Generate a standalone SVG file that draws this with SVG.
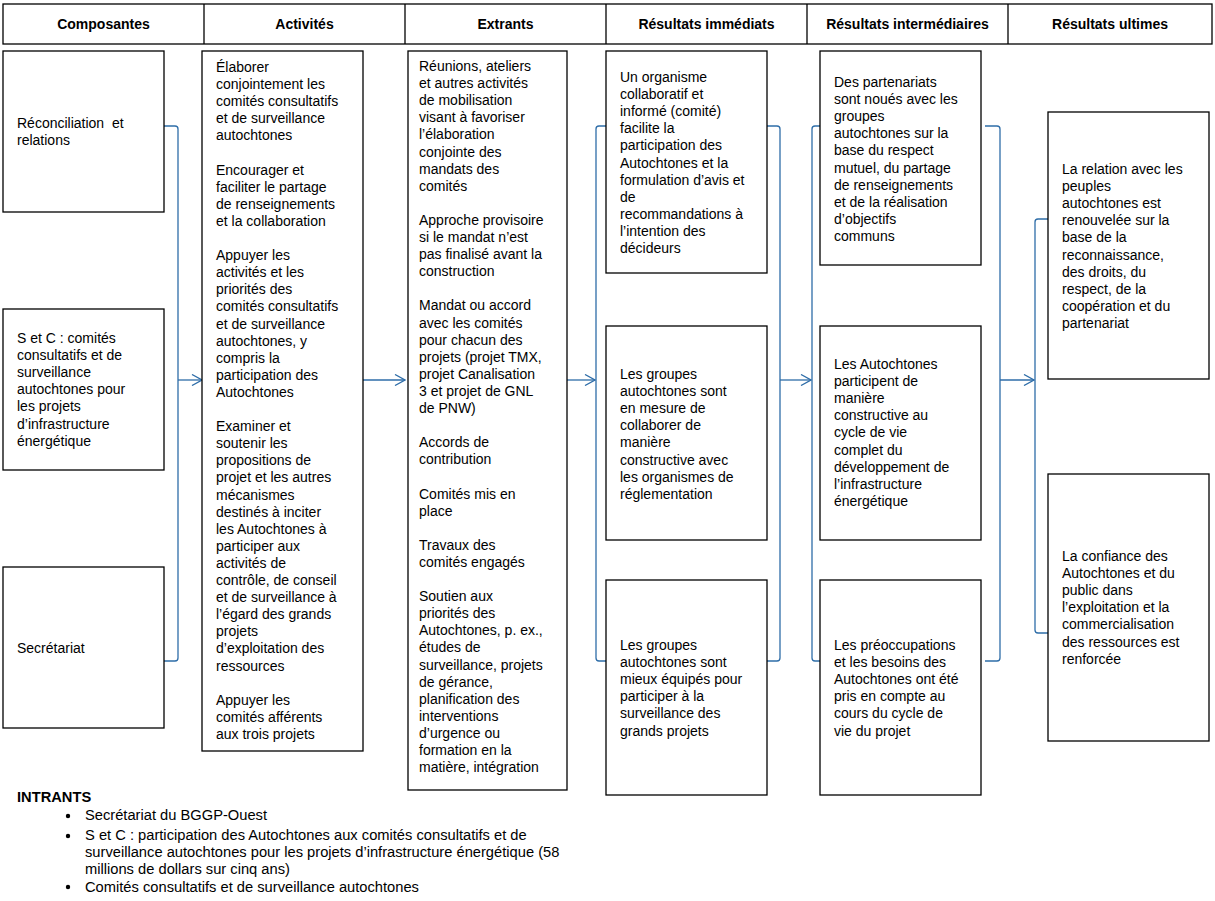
<svg xmlns="http://www.w3.org/2000/svg" width="1215" height="901" viewBox="0 0 1215 901">
<defs>
<style>
.box{fill:#fff;stroke:#000;stroke-width:1.3}
.t{font-family:"Liberation Sans",Arial,sans-serif;font-size:14px;fill:#000}
.i{font-family:"Liberation Sans",Arial,sans-serif;font-size:14.7px;fill:#000}
.h{font-family:"Liberation Sans",Arial,sans-serif;font-size:14px;font-weight:bold;fill:#000;text-anchor:middle}
.c{fill:none;stroke:#2E6DA8;stroke-width:1.3}
</style>
<marker id="ah" markerWidth="12" markerHeight="12" refX="11" refY="6" orient="auto" markerUnits="userSpaceOnUse">
<path d="M1,0.5 L11,6 L1,11.5" fill="none" stroke="#2E6DA8" stroke-width="1.3"/>
</marker>
</defs>
<rect width="1215" height="901" fill="#fff"/>

<g id="header">
<rect class="box" x="3" y="4" width="1209" height="40"/>
<line x1="204" y1="4" x2="204" y2="44" stroke="#000" stroke-width="1.3"/>
<line x1="405" y1="4" x2="405" y2="44" stroke="#000" stroke-width="1.3"/>
<line x1="606" y1="4" x2="606" y2="44" stroke="#000" stroke-width="1.3"/>
<line x1="807" y1="4" x2="807" y2="44" stroke="#000" stroke-width="1.3"/>
<line x1="1008" y1="4" x2="1008" y2="44" stroke="#000" stroke-width="1.3"/>
<text class="h" x="103.5" y="29">Composantes</text>
<text class="h" x="304.5" y="29">Activités</text>
<text class="h" x="505.5" y="29">Extrants</text>
<text class="h" x="706.5" y="29">Résultats immédiats</text>
<text class="h" x="907.5" y="29">Résultats intermédiaires</text>
<text class="h" x="1110" y="29">Résultats ultimes</text>
</g>

<g id="connectors">
<path class="c" d="M164,126 H175 Q178,126 178,129 V658 Q178,661 175,661 H164"/>
<line class="c" x1="178" y1="380" x2="202" y2="380" marker-end="url(#ah)"/>
<line class="c" x1="363" y1="380" x2="405" y2="380" marker-end="url(#ah)"/>
<line class="c" x1="567" y1="380" x2="595" y2="380" marker-end="url(#ah)"/>
<path class="c" d="M606,126 H599 Q596,126 596,129 V658 Q596,661 599,661 H606"/>
<path class="c" d="M767,126 H777 Q780,126 780,129 V658 Q780,661 777,661 H767"/>
<line class="c" x1="780" y1="380" x2="811" y2="380" marker-end="url(#ah)"/>
<path class="c" d="M823,126 H815 Q812,126 812,129 V658 Q812,661 815,661 H823"/>
<path class="c" d="M985,126 H997 Q1000,126 1000,129 V658 Q1000,661 997,661 H985"/>
<line class="c" x1="1000" y1="380" x2="1034" y2="380" marker-end="url(#ah)"/>
<path class="c" d="M1048,219 H1038 Q1035,219 1035,222 V630 Q1035,633 1038,633 H1048"/>
</g>

<g id="comp1">
<rect class="box" x="3" y="51" width="161" height="161"/>
<text class="t" xml:space="preserve"><tspan x="17" y="128">Réconciliation  et</tspan><tspan x="17" dy="17.1">relations</tspan></text>
</g>
<g id="comp2">
<rect class="box" x="3" y="309" width="161" height="161"/>
<text class="t"><tspan x="17" y="343">S et C : comités</tspan><tspan x="17" dy="17.1">consultatifs et de</tspan><tspan x="17" dy="17.1">surveillance</tspan><tspan x="17" dy="17.1">autochtones pour</tspan><tspan x="17" dy="17.1">les projets</tspan><tspan x="17" dy="17.1">d’infrastructure</tspan><tspan x="17" dy="17.1">énergétique</tspan></text>
</g>
<g id="comp3">
<rect class="box" x="3" y="567" width="161" height="161"/>
<text class="t" x="17" y="653">Secrétariat</text>
</g>

<g id="activites">
<rect class="box" x="202" y="51" width="161" height="700"/>
<text class="t"><tspan x="216" y="72">Élaborer</tspan><tspan x="216" dy="17.1">conjointement  les</tspan><tspan x="216" dy="17.1">comités consultatifs</tspan><tspan x="216" dy="17.1">et de surveillance</tspan><tspan x="216" dy="17.1">autochtones</tspan><tspan x="216" dy="34.2">Encourager et</tspan><tspan x="216" dy="17.1">faciliter le partage</tspan><tspan x="216" dy="17.1">de renseignements</tspan><tspan x="216" dy="17.1">et la collaboration</tspan><tspan x="216" dy="34.2">Appuyer les</tspan><tspan x="216" dy="17.1">activités et les</tspan><tspan x="216" dy="17.1">priorités des</tspan><tspan x="216" dy="17.1">comités consultatifs</tspan><tspan x="216" dy="17.1">et de surveillance</tspan><tspan x="216" dy="17.1">autochtones, y</tspan><tspan x="216" dy="17.1">compris la</tspan><tspan x="216" dy="17.1">participation  des</tspan><tspan x="216" dy="17.1">Autochtones</tspan><tspan x="216" dy="34.2">Examiner et</tspan><tspan x="216" dy="17.1">soutenir les</tspan><tspan x="216" dy="17.1">propositions  de</tspan><tspan x="216" dy="17.1">projet et les autres</tspan><tspan x="216" dy="17.1">mécanismes</tspan><tspan x="216" dy="17.1">destinés à inciter</tspan><tspan x="216" dy="17.1">les Autochtones à</tspan><tspan x="216" dy="17.1">participer aux</tspan><tspan x="216" dy="17.1">activités de</tspan><tspan x="216" dy="17.1">contrôle, de conseil</tspan><tspan x="216" dy="17.1">et de surveillance à</tspan><tspan x="216" dy="17.1">l’égard  des grands</tspan><tspan x="216" dy="17.1">projets</tspan><tspan x="216" dy="17.1">d’exploitation  des</tspan><tspan x="216" dy="17.1">ressources</tspan><tspan x="216" dy="34.2">Appuyer les</tspan><tspan x="216" dy="17.1">comités afférents</tspan><tspan x="216" dy="17.1">aux trois projets</tspan></text>
</g>

<g id="extrants">
<rect class="box" x="408" y="51" width="159" height="739"/>
<text class="t"><tspan x="419" y="71">Réunions, ateliers</tspan><tspan x="419" dy="17.1">et autres activités</tspan><tspan x="419" dy="17.1">de mobilisation</tspan><tspan x="419" dy="17.1">visant à favoriser</tspan><tspan x="419" dy="17.1">l’élaboration</tspan><tspan x="419" dy="17.1">conjointe des</tspan><tspan x="419" dy="17.1">mandats des</tspan><tspan x="419" dy="17.1">comités</tspan><tspan x="419" dy="34.2">Approche provisoire</tspan><tspan x="419" dy="17.1">si le mandat n’est</tspan><tspan x="419" dy="17.1">pas finalisé avant la</tspan><tspan x="419" dy="17.1">construction</tspan><tspan x="419" dy="34.2">Mandat ou accord</tspan><tspan x="419" dy="17.1">avec les comités</tspan><tspan x="419" dy="17.1">pour chacun des</tspan><tspan x="419" dy="17.1">projets (projet TMX,</tspan><tspan x="419" dy="17.1">projet Canalisation</tspan><tspan x="419" dy="17.1">3 et projet de GNL</tspan><tspan x="419" dy="17.1">de PNW)</tspan><tspan x="419" dy="34.2">Accords de</tspan><tspan x="419" dy="17.1">contribution</tspan><tspan x="419" dy="34.2">Comités mis en</tspan><tspan x="419" dy="17.1">place</tspan><tspan x="419" dy="34.2">Travaux des</tspan><tspan x="419" dy="17.1">comités engagés</tspan><tspan x="419" dy="34.2">Soutien aux</tspan><tspan x="419" dy="17.1">priorités des</tspan><tspan x="419" dy="17.1">Autochtones, p. ex.,</tspan><tspan x="419" dy="17.1">études de</tspan><tspan x="419" dy="17.1">surveillance, projets</tspan><tspan x="419" dy="17.1">de gérance,</tspan><tspan x="419" dy="17.1">planification  des</tspan><tspan x="419" dy="17.1">interventions</tspan><tspan x="419" dy="17.1">d’urgence ou</tspan><tspan x="419" dy="17.1">formation en la</tspan><tspan x="419" dy="17.1">matière, intégration</tspan></text>
</g>

<g id="ri1">
<rect class="box" x="606" y="51" width="161" height="222"/>
<text class="t"><tspan x="620" y="82">Un organisme</tspan><tspan x="620" dy="17.1">collaboratif  et</tspan><tspan x="620" dy="17.1">informé  (comité)</tspan><tspan x="620" dy="17.1">facilite la</tspan><tspan x="620" dy="17.1">participation  des</tspan><tspan x="620" dy="17.1">Autochtones  et la</tspan><tspan x="620" dy="17.1">formulation  d’avis et</tspan><tspan x="620" dy="17.1">de</tspan><tspan x="620" dy="17.1">recommandations  à</tspan><tspan x="620" dy="17.1">l’intention  des</tspan><tspan x="620" dy="17.1">décideurs</tspan></text>
</g>
<g id="ri2">
<rect class="box" x="606" y="326" width="161" height="214"/>
<text class="t"><tspan x="620" y="379">Les groupes</tspan><tspan x="620" dy="17.1">autochtones  sont</tspan><tspan x="620" dy="17.1">en mesure de</tspan><tspan x="620" dy="17.1">collaborer  de</tspan><tspan x="620" dy="17.1">manière</tspan><tspan x="620" dy="17.1">constructive avec</tspan><tspan x="620" dy="17.1">les organismes de</tspan><tspan x="620" dy="17.1">réglementation</tspan></text>
</g>
<g id="ri3">
<rect class="box" x="606" y="580" width="161" height="215"/>
<text class="t"><tspan x="620" y="650">Les groupes</tspan><tspan x="620" dy="17.1">autochtones  sont</tspan><tspan x="620" dy="17.1">mieux équipés pour</tspan><tspan x="620" dy="17.1">participer à la</tspan><tspan x="620" dy="17.1">surveillance des</tspan><tspan x="620" dy="17.1">grands  projets</tspan></text>
</g>

<g id="rm1">
<rect class="box" x="820" y="51" width="161" height="214"/>
<text class="t"><tspan x="834" y="87">Des partenariats</tspan><tspan x="834" dy="17.1">sont noués  avec les</tspan><tspan x="834" dy="17.1">groupes</tspan><tspan x="834" dy="17.1">autochtones  sur la</tspan><tspan x="834" dy="17.1">base du respect</tspan><tspan x="834" dy="17.1">mutuel,  du partage</tspan><tspan x="834" dy="17.1">de renseignements</tspan><tspan x="834" dy="17.1">et de la réalisation</tspan><tspan x="834" dy="17.1">d’objectifs</tspan><tspan x="834" dy="17.1">communs</tspan></text>
</g>
<g id="rm2">
<rect class="box" x="820" y="326" width="161" height="214"/>
<text class="t"><tspan x="834" y="369">Les Autochtones</tspan><tspan x="834" dy="17.1">participent  de</tspan><tspan x="834" dy="17.1">manière</tspan><tspan x="834" dy="17.1">constructive au</tspan><tspan x="834" dy="17.1">cycle de vie</tspan><tspan x="834" dy="17.1">complet du</tspan><tspan x="834" dy="17.1">développement  de</tspan><tspan x="834" dy="17.1">l’infrastructure</tspan><tspan x="834" dy="17.1">énergétique</tspan></text>
</g>
<g id="rm3">
<rect class="box" x="820" y="580" width="161" height="215"/>
<text class="t"><tspan x="834" y="650">Les préoccupations</tspan><tspan x="834" dy="17.1">et les besoins des</tspan><tspan x="834" dy="17.1">Autochtones ont été</tspan><tspan x="834" dy="17.1">pris en compte au</tspan><tspan x="834" dy="17.1">cours du cycle de</tspan><tspan x="834" dy="17.1">vie du projet</tspan></text>
</g>

<g id="ru1">
<rect class="box" x="1048" y="112" width="161" height="267"/>
<text class="t"><tspan x="1062" y="174">La relation avec les</tspan><tspan x="1062" dy="17.1">peuples</tspan><tspan x="1062" dy="17.1">autochtones est</tspan><tspan x="1062" dy="17.1">renouvelée sur la</tspan><tspan x="1062" dy="17.1">base de la</tspan><tspan x="1062" dy="17.1">reconnaissance,</tspan><tspan x="1062" dy="17.1">des droits, du</tspan><tspan x="1062" dy="17.1">respect, de la</tspan><tspan x="1062" dy="17.1">coopération et du</tspan><tspan x="1062" dy="17.1">partenariat</tspan></text>
</g>
<g id="ru2">
<rect class="box" x="1048" y="474" width="161" height="267"/>
<text class="t"><tspan x="1062" y="561">La confiance des</tspan><tspan x="1062" dy="17.1">Autochtones et du</tspan><tspan x="1062" dy="17.1">public dans</tspan><tspan x="1062" dy="17.1">l’exploitation  et la</tspan><tspan x="1062" dy="17.1">commercialisation</tspan><tspan x="1062" dy="17.1">des ressources est</tspan><tspan x="1062" dy="17.1">renforcée</tspan></text>
</g>

<g id="intrants">
<text class="i" x="17" y="802" font-weight="bold">INTRANTS</text>
<circle cx="68" cy="816" r="2.2" fill="#000"/>
<circle cx="68" cy="836" r="2.2" fill="#000"/>
<circle cx="68" cy="887" r="2.2" fill="#000"/>
<text class="i"><tspan x="85" y="820">Secrétariat du BGGP-Ouest</tspan><tspan x="85" y="840">S et C : participation des Autochtones aux comités consultatifs et de</tspan><tspan x="85" y="857">surveillance autochtones pour les projets d’infrastructure énergétique (58</tspan><tspan x="85" y="874">millions de dollars sur cinq ans)</tspan><tspan x="85" y="892">Comités consultatifs et de surveillance autochtones</tspan></text>
</g>
</svg>
